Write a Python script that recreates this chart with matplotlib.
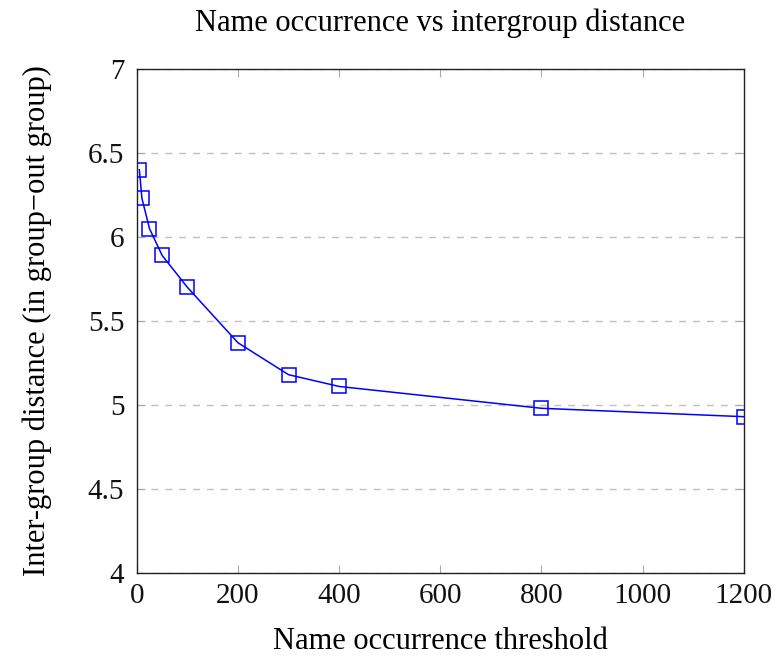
import matplotlib.pyplot as plt

thresholds = [5, 10, 25, 50, 100, 200, 300, 400, 800, 1200]
distance = [6.40, 6.23, 6.05, 5.89, 5.70, 5.37, 5.18, 5.11, 4.98, 4.93]
xticks = [0, 200, 400, 600, 800, 1000, 1200]
yticks = [4, 4.5, 5, 5.5, 6, 6.5, 7]
ytick_labels = ['4', '4.5', '5', '5.5', '6', '6.5', '7']

plt.rcParams['font.family'] = ['Liberation Serif', 'DejaVu Serif']

fig = plt.figure(figsize=(7.82, 6.57), dpi=100)
ax = fig.add_axes([0.175, 0.128, 0.776, 0.767])

# dashed horizontal grid like pgfplots
ax.yaxis.grid(True, linestyle=(0, (5, 5)), color='#c0c0c0', linewidth=1)
ax.set_axisbelow(True)

ax.plot(thresholds, distance, color='#0000ff', linewidth=1.1, marker='s',
        markersize=9.5, markerfacecolor='none', markeredgecolor='#0000ff',
        markeredgewidth=1.1, zorder=3)

ax.set_xlim(0, 1200)
ax.set_ylim(4, 7)
ax.set_xticks(xticks)
ax.set_yticks(yticks)
ax.set_yticklabels(ytick_labels)
ax.tick_params(direction='in', length=6, labelsize=21, width=0.8,
               top=True, right=True, colors='#aaaaaa', labelcolor='#111111')
ax.tick_params(axis='x', pad=7)
ax.tick_params(axis='y', pad=9)
for s in ax.spines.values():
    s.set_linewidth(1.0)
    s.set_color('#222222')

ax.set_xlabel('Name occurrence threshold', fontsize=22, labelpad=13)
ax.set_ylabel('Inter-group distance (in group\u2212out group)', fontsize=22, labelpad=26)
ax.set_title('Name occurrence vs intergroup distance', fontsize=22, pad=27)

plt.savefig('out.png', dpi=100)
